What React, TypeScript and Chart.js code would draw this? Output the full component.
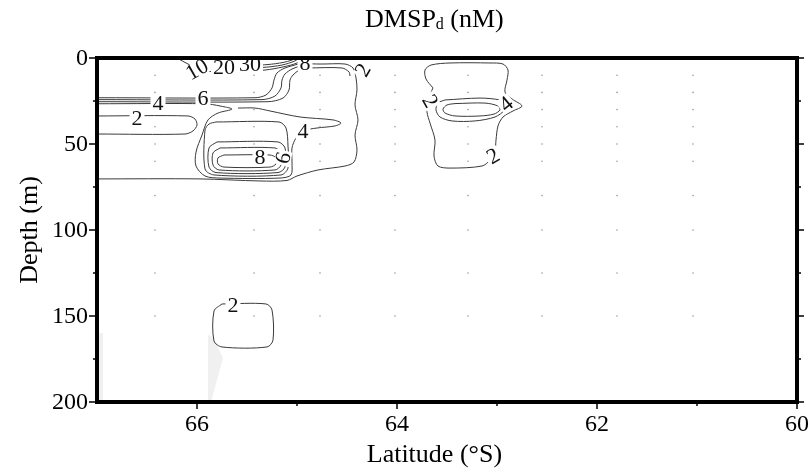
import React, { useEffect, useRef } from 'react';
import { Chart, registerables } from 'chart.js';

Chart.register(...registerables);

// ---------- axes ----------
const latMajorTicks = [66, 64, 62, 60];
const latMinorTicks = [65, 63, 61];
const depthMajorTicks = [0, 50, 100, 150, 200];
const depthMinorTicks = [25, 75, 125, 175];
const latRange = [60, 67];
const depthRange = [0, 200];

// ---------- sampling stations (°S) and depths (m) ----------
const stationLats = [66.42, 65.43, 64.77, 64.02, 63.29, 62.55, 61.8, 61.04];
const sampleDepths = [10, 20, 30, 40, 50, 60, 80, 100, 125, 150];

type Pt = [number, number]; // [latitude °S, depth m]

// ---------- contour lines (DMSPd, nM) ----------
const stackLine1: Pt[] = [[67, 23.1], [65.42, 23.1], [65.31, 21.5], [65.25, 17.4], [65.23, 12.8], [65.2, 8.7], [65.12, 5.8], [64.99, 3.5], [64.91, 1.2], [64.88, 0]];
const stackLine2: Pt[] = [[67, 24.2], [65.35, 24.2], [65.22, 22.1], [65.16, 17.4], [65.15, 12.8], [65.12, 9.3], [65.05, 6.4], [64.95, 4.1], [64.89, 1.7], [64.86, 0]];
const stackLine3: Pt[] = [[67, 25.4], [65.29, 25.4], [65.14, 23.3], [65.08, 18.6], [65.07, 12.8], [65.04, 9.9], [64.98, 7.0], [64.91, 4.7], [64.87, 2.3], [64.84, 0]];
const contour4Main: Pt[] = [
  [67, 26.6], [65.92, 26.6], [65.77, 27.9], [65.65, 29.7], [65.79, 32.0], [65.89, 36.0], [65.95, 44.8],
  [66.01, 54.7], [66.01, 62.8], [65.92, 68.6], [65.77, 69.8], [65.17, 69.8], [65.06, 68.0], [65.05, 60.5],
  [65.05, 52.3], [65.01, 46.5], [64.94, 42.4], [64.8, 40.7], [64.62, 39.5], [64.56, 37.8], [64.64, 36.0],
  [64.97, 34.3], [65.27, 30.8], [65.42, 29.1], [65.59, 29.1],
];
const ringA: Pt[] = [[65.81, 37.2], [65.18, 37.2], [65.11, 40.7], [65.09, 51.2], [65.09, 64.0], [65.16, 68.0], [65.83, 68.0], [65.92, 64.5], [65.92, 41.9], [65.88, 38.4], [65.81, 37.2]];
const ringB: Pt[] = [[65.8, 48.8], [65.19, 48.8], [65.12, 52.3], [65.12, 63.4], [65.19, 66.6], [65.81, 66.6], [65.88, 63.4], [65.88, 52.3], [65.8, 48.8]];
const ringC: Pt[] = [[65.77, 52.3], [65.22, 52.3], [65.16, 55.2], [65.16, 62.2], [65.22, 65.1], [65.78, 65.1], [65.84, 62.2], [65.84, 55.2], [65.77, 52.3]];
const ring8: Pt[] = [[65.73, 56.4], [65.27, 56.4], [65.21, 58.1], [65.21, 61.6], [65.27, 63.4], [65.73, 63.4], [65.79, 61.6], [65.79, 58.1], [65.73, 56.4]];
const contour2Outer: Pt[] = [
  [67, 70.3], [65.97, 70.3], [65.37, 71.5], [65.1, 71.2], [65.0, 68.6], [64.79, 65.1], [64.52, 62.8],
  [64.43, 60.5], [64.4, 53.5], [64.42, 44.8], [64.39, 36.0], [64.42, 27.3], [64.4, 18.6], [64.41, 11.6],
  [64.44, 5.8], [64.52, 3.5], [64.77, 3.5], [64.91, 2.9], [64.97, 0],
];
const topInnerLine: Pt[] = [[64.89, 5.8], [64.55, 5.8], [64.48, 8.1], [64.47, 10.5]];
const contour10: Pt[] = [[66.2, 0], [66.09, 3.5], [65.97, 6.4], [65.82, 8.1], [65.52, 7.6], [65.32, 7.0], [65.14, 5.2], [65.0, 2.9], [64.94, 0]];
const contour20: Pt[] = [[65.85, 0], [65.79, 3.5], [65.65, 5.5], [65.35, 5.5], [65.15, 4.1], [65.02, 1.7], [64.98, 0]];
const contour30: Pt[] = [[65.59, 0], [65.55, 2.9], [65.45, 4.1], [65.29, 3.8], [65.14, 2.6], [65.05, 1.2], [65.02, 0]];
const contour2Tongue: Pt[] = [[67, 33.7], [66.09, 33.7], [66.02, 35.5], [66.0, 39.0], [66.04, 42.4], [66.12, 44.2], [67, 44.2]];
const contour2East: Pt[] = [
  [63.64, 17.4], [63.71, 12.2], [63.72, 7.0], [63.66, 4.1], [63.47, 2.9], [63.07, 2.9], [62.94, 3.5],
  [62.89, 7.0], [62.9, 12.8], [62.92, 19.8], [62.85, 23.8], [62.75, 27.9], [62.84, 30.8], [62.94, 34.3],
  [62.99, 39.5], [63.01, 47.7], [63.02, 53.5], [63.07, 59.3], [63.15, 62.8], [63.47, 64.0], [63.59, 62.8],
  [63.63, 57.0], [63.62, 47.7], [63.67, 37.8], [63.7, 31.4], [63.69, 24.4], [63.64, 17.4],
];
const contour4East: Pt[] = [[63.52, 24.4], [63.17, 23.3], [62.97, 24.4], [62.89, 26.7], [62.92, 30.2], [63.02, 34.3], [63.22, 36.6], [63.45, 36.6], [63.57, 34.3], [63.61, 30.2], [63.59, 26.2], [63.52, 24.4]];
const contour6East: Pt[] = [[63.42, 26.5], [63.12, 26.2], [62.99, 27.9], [62.97, 30.2], [63.03, 32.6], [63.17, 33.7], [63.42, 33.7], [63.52, 32.0], [63.54, 29.7], [63.5, 27.3], [63.42, 26.5]];
const contour2Deep: Pt[] = [[65.75, 143.0], [65.31, 143.0], [65.25, 146.5], [65.24, 164.0], [65.3, 168.0], [65.75, 168.0], [65.83, 164.5], [65.83, 147.1], [65.75, 143.0]];

const contourPaths: Pt[][] = [
  stackLine1, stackLine2, stackLine3, contour4Main, ringA, ringB, ringC, ring8,
  contour2Outer, topInnerLine, contour10, contour20, contour30, contour2Tongue,
  contour2East, contour4East, contour6East, contour2Deep,
];

// ---------- contour labels ----------
const labelTexts = ['4', '6', '2', '10', '20', '30', '8', '2', '4', '8', '6', '2', '4', '2', '2'];
const labelLats = [66.39, 65.94, 66.6, 66.0, 65.73, 65.47, 64.92, 64.34, 64.94, 65.37, 65.14, 63.67, 62.91, 63.04, 65.64];
const labelDepths = [26.2, 23.3, 34.9, 6.6, 5.2, 3.5, 2.9, 7.0, 42.4, 57.6, 58.1, 25.0, 26.7, 57.0, 143.6];
const labelAngles = [0, 0, 0, -30, 0, 0, 0, -60, 0, 0, -75, 60, -40, -30, 0];

// ---------- blanked (grey) areas ----------
const shadeLeft: Pt[] = [[66.98, 159.9], [66.94, 159.9], [66.94, 200], [66.98, 200]];
const shadeWedge: Pt[] = [[65.89, 161.0], [65.84, 162.2], [65.74, 174.4], [65.86, 200], [65.89, 200]];
const shadeAreas: Pt[][] = [shadeLeft, shadeWedge];

const SERIF = '"Liberation Serif", "Times New Roman", serif';

const overlayPlugin = {
  id: 'overlay',
  beforeDatasetsDraw(chart: any) {
    const { ctx, scales } = chart;
    const xs = scales.x, ys = scales.y;
    ctx.save();
    ctx.fillStyle = '#f0f0f0';
    shadeAreas.forEach((poly) => {
      ctx.beginPath();
      poly.forEach(([la, d], i) => {
        const px = xs.getPixelForValue(la), py = ys.getPixelForValue(d);
        if (i === 0) ctx.moveTo(px, py); else ctx.lineTo(px, py);
      });
      ctx.closePath();
      ctx.fill();
    });
    ctx.restore();
  },
  afterDatasetsDraw(chart: any) {
    const { ctx, scales, chartArea } = chart;
    const xs = scales.x, ys = scales.y;
    const { left, right, top, bottom } = chartArea;

    // contour labels
    ctx.save();
    ctx.font = `22px ${SERIF}`;
    ctx.textAlign = 'center';
    ctx.textBaseline = 'middle';
    labelTexts.forEach((t, i) => {
      const px = xs.getPixelForValue(labelLats[i]);
      const py = ys.getPixelForValue(labelDepths[i]);
      ctx.save();
      ctx.translate(px, py);
      ctx.rotate((labelAngles[i] * Math.PI) / 180);
      const w = ctx.measureText(t).width;
      ctx.fillStyle = '#ffffff';
      ctx.fillRect(-w / 2 - 2, -8, w + 4, 16);
      ctx.fillStyle = '#111111';
      ctx.fillText(t, 0, 1);
      ctx.restore();
    });
    ctx.restore();

    // frame
    ctx.save();
    ctx.strokeStyle = '#000';
    ctx.lineWidth = 4;
    ctx.strokeRect(left, top, right - left, bottom - top);
    ctx.lineWidth = 1.5;
    ctx.beginPath();
    depthMajorTicks.forEach((d) => {
      const py = ys.getPixelForValue(d);
      ctx.moveTo(left - 8, py); ctx.lineTo(left, py);
      ctx.moveTo(right, py); ctx.lineTo(right + 7, py);
    });
    depthMinorTicks.forEach((d) => {
      const py = ys.getPixelForValue(d);
      ctx.moveTo(left - 4, py); ctx.lineTo(left, py);
      ctx.moveTo(right, py); ctx.lineTo(right + 4, py);
    });
    latMajorTicks.forEach((la) => {
      const px = xs.getPixelForValue(la);
      ctx.moveTo(px, bottom); ctx.lineTo(px, bottom + 7);
    });
    latMinorTicks.forEach((la) => {
      const px = xs.getPixelForValue(la);
      ctx.moveTo(px, bottom); ctx.lineTo(px, bottom + 4);
    });
    ctx.stroke();

    // tick labels
    ctx.fillStyle = '#000';
    ctx.font = `24px ${SERIF}`;
    ctx.textAlign = 'right';
    ctx.textBaseline = 'middle';
    depthMajorTicks.forEach((d) => {
      ctx.fillText(String(d), left - 9, ys.getPixelForValue(d) + 1);
    });
    ctx.textAlign = 'center';
    ctx.textBaseline = 'alphabetic';
    latMajorTicks.forEach((la) => {
      ctx.fillText(String(la), xs.getPixelForValue(la), bottom + 29);
    });

    // axis titles
    const cx = left + (right - left) * 0.482;
    ctx.font = `26px ${SERIF}`;
    ctx.fillText('Latitude (°S)', cx, bottom + 60);
    ctx.save();
    ctx.translate(30, (top + bottom) / 2);
    ctx.rotate(-Math.PI / 2);
    ctx.textBaseline = 'middle';
    ctx.fillText('Depth (m)', 0, 0);
    ctx.restore();

    // chart title with subscript
    const big = `26px ${SERIF}`;
    const small = `16px ${SERIF}`;
    ctx.font = big;
    const w1 = ctx.measureText('DMSP').width;
    const w3 = ctx.measureText(' (nM)').width;
    ctx.font = small;
    const w2 = ctx.measureText('d').width;
    let x0 = cx - (w1 + w2 + w3) / 2;
    const by = top - 31;
    ctx.textAlign = 'left';
    ctx.font = big;
    ctx.fillText('DMSP', x0, by);
    x0 += w1;
    ctx.font = small;
    ctx.fillText('d', x0, by + 2);
    x0 += w2;
    ctx.font = big;
    ctx.fillText(' (nM)', x0, by);
    ctx.restore();
  },
};

export default function App() {
  const canvasRef = useRef<HTMLCanvasElement | null>(null);

  useEffect(() => {
    if (!canvasRef.current) return;
    const lineSets = contourPaths.map((path) => ({
      type: 'scatter' as const,
      data: path.map(([la, d]) => ({ x: la, y: d })),
      showLine: true,
      borderColor: '#3a3a3a',
      borderWidth: 1,
      pointRadius: 0,
      tension: 0.3,
      fill: false,
    }));
    const stationPoints: { x: number; y: number }[] = [];
    stationLats.forEach((la) => sampleDepths.forEach((d) => stationPoints.push({ x: la, y: d })));
    const chart = new Chart(canvasRef.current, {
      type: 'scatter',
      data: {
        datasets: [
          {
            data: stationPoints,
            pointRadius: 0.8,
            pointBackgroundColor: '#9a9a9a',
            pointBorderWidth: 0,
            showLine: false,
          } as any,
          ...lineSets,
        ],
      },
      options: {
        responsive: false,
        animation: false,
        events: [],
        layout: { padding: { left: 97, right: 11, top: 58, bottom: 71 } },
        plugins: { legend: { display: false }, tooltip: { enabled: false }, title: { display: false } },
        scales: {
          x: { type: 'linear', reverse: true, min: latRange[0], max: latRange[1], display: false },
          y: { type: 'linear', reverse: true, min: depthRange[0], max: depthRange[1], display: false },
        },
      },
      plugins: [overlayPlugin],
    });
    return () => chart.destroy();
  }, []);

  return (
    <div style={{ position: 'absolute', left: 0, top: 0, width: 808, height: 473, background: '#fff' }}>
      <canvas ref={canvasRef} width={808} height={473} />
    </div>
  );
}
